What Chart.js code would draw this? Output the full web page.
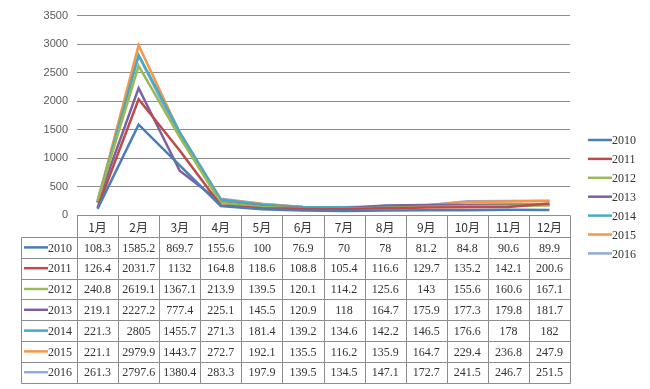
<!DOCTYPE html>
<html>
<head>
<meta charset="utf-8">
<script src="https://cdn.jsdelivr.net/npm/chart.js@4"></script>
<style>
  html, body { margin: 0; padding: 0; background: #fff; }
  #wrap { width: 650px; height: 389px; position: relative; }
</style>
</head>
<body>
<div id="wrap"><canvas id="chart" width="650" height="389"></canvas></div>
<script>
// 月份 + 各年数据
const months = ['1月', '2月', '3月', '4月', '5月', '6月', '7月', '8月', '9月', '10月', '11月', '12月'];
const years = ['2010', '2011', '2012', '2013', '2014', '2015', '2016'];
const yTicks = [0, 500, 1000, 1500, 2000, 2500, 3000, 3500];

const v2010 = [108.3, 1585.2, 869.7, 155.6, 100, 76.9, 70, 78, 81.2, 84.8, 90.6, 89.9];
const v2011 = [126.4, 2031.7, 1132, 164.8, 118.6, 108.8, 105.4, 116.6, 129.7, 135.2, 142.1, 200.6];
const v2012 = [240.8, 2619.1, 1367.1, 213.9, 139.5, 120.1, 114.2, 125.6, 143, 155.6, 160.6, 167.1];
const v2013 = [219.1, 2227.2, 777.4, 225.1, 145.5, 120.9, 118, 164.7, 175.9, 177.3, 179.8, 181.7];
const v2014 = [221.3, 2805, 1455.7, 271.3, 181.4, 139.2, 134.6, 142.2, 146.5, 176.6, 178, 182];
const v2015 = [221.1, 2979.9, 1443.7, 272.7, 192.1, 135.5, 116.2, 135.9, 164.7, 229.4, 236.8, 247.9];
const v2016 = [261.3, 2797.6, 1380.4, 283.3, 197.9, 139.5, 134.5, 147.1, 172.7, 241.5, 246.7, 251.5];

const series = [v2010, v2011, v2012, v2013, v2014, v2015, v2016];
const COLORS = ['#4a7ebb', '#be4b48', '#98b954', '#7d60a0', '#46aac5', '#f79646', '#8fa9d8'];

const gridColor = '#8c8c8c';
const textFont = "12px 'Liberation Serif', 'Noto Sans CJK SC', serif";

// 底部数据表 + 右侧图例
const tablePlugin = {
  id: 'dataTable',
  afterDraw(chart) {
    const { ctx, scales: { x }, chartArea } = chart;
    const colW = x.getPixelForValue(1) - x.getPixelForValue(0);
    const left = 21;
    const tLeft = chartArea.left;
    const tRight = chartArea.right;
    const top = chartArea.bottom;
    const headH = 22;
    const rowH = 20.8;
    const bottom = top + headH + rowH * years.length;
    const px = (v) => Math.round(v) + 0.5;

    ctx.save();
    ctx.strokeStyle = gridColor;
    ctx.lineWidth = 1;
    ctx.beginPath();
    // header row vertical lines
    for (let i = 0; i <= months.length; i++) {
      const xx = px(tLeft + i * colW);
      ctx.moveTo(xx, px(top));
      ctx.lineTo(xx, px(bottom));
    }
    // horizontal lines
    for (let r = 0; r <= years.length; r++) {
      const yy = px(top + headH + r * rowH);
      ctx.moveTo(px(left), yy);
      ctx.lineTo(px(tRight), yy);
    }
    ctx.moveTo(px(left), px(top + headH));
    ctx.lineTo(px(left), px(bottom));
    ctx.stroke();

    ctx.fillStyle = '#333';
    ctx.font = "12px 'Noto Sans CJK SC', sans-serif";
    ctx.textAlign = 'center';
    ctx.textBaseline = 'middle';
    months.forEach((m, i) => {
      ctx.fillText(m, x.getPixelForValue(i), top + headH / 2 + 1);
    });

    ctx.font = textFont;
    series.forEach((vals, r) => {
      const cy = top + headH + rowH * r + rowH / 2 + 1;
      vals.forEach((v, i) => {
        ctx.fillText(String(v), x.getPixelForValue(i), cy);
      });
      // legend key inside the table
      ctx.strokeStyle = COLORS[r];
      ctx.lineWidth = 2.5;
      ctx.beginPath();
      ctx.moveTo(24, cy - 1);
      ctx.lineTo(48, cy - 1);
      ctx.stroke();
      ctx.textAlign = 'left';
      ctx.fillText(years[r], 48, cy);
      ctx.textAlign = 'center';
    });

    // right legend
    ctx.textAlign = 'left';
    years.forEach((yr, r) => {
      const ly = 140 + r * 18.9;
      ctx.strokeStyle = COLORS[r];
      ctx.lineWidth = 2.5;
      ctx.beginPath();
      ctx.moveTo(588, ly);
      ctx.lineTo(612, ly);
      ctx.stroke();
      ctx.fillText(yr, 612, ly + 1);
    });
    ctx.restore();
  },
};

new Chart(document.getElementById('chart'), {
  type: 'line',
  data: {
    labels: months,
    datasets: years.map((yr, i) => ({
      label: yr,
      data: series[i],
      borderColor: COLORS[i],
      backgroundColor: COLORS[i],
      borderWidth: 2.5,
      tension: 0,
      pointRadius: 0,
    })),
  },
  options: {
    responsive: false,
    animation: false,
    layout: { padding: { left: 0, right: 80, top: 14, bottom: 174 } },
    plugins: { legend: { display: false }, tooltip: { enabled: false } },
    scales: {
      x: { display: false, offset: true },
      y: {
        min: 0,
        max: 3500,
        afterBuildTicks: (scale) => { scale.ticks = yTicks.map((v) => ({ value: v })); },
        afterFit: (scale) => { scale.width = 77; },
        grid: { color: gridColor, drawTicks: false },
        border: { display: false },
        ticks: {
          padding: 9,
          color: '#595959',
          font: { family: "'Liberation Sans', Arial, sans-serif", size: 11 },
          callback: (v) => String(v),
        },
      },
    },
  },
  plugins: [tablePlugin],
});
</script>
</body>
</html>
